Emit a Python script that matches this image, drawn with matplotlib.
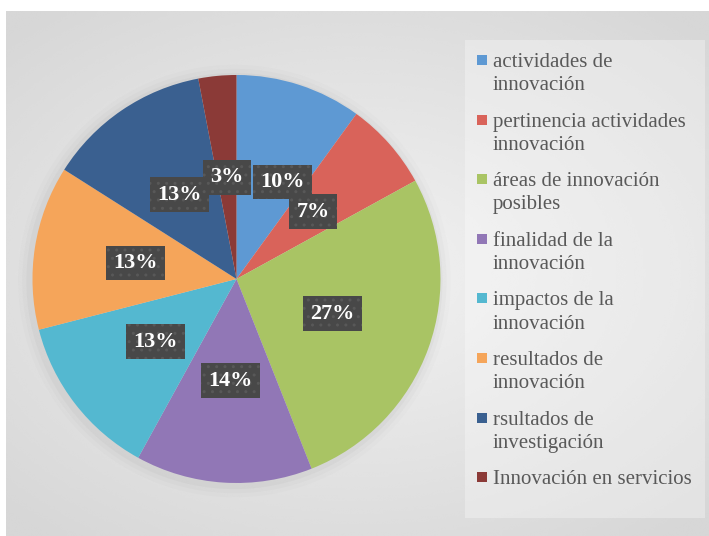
import matplotlib.pyplot as plt
from matplotlib.patches import Rectangle
import numpy as np

# data
labels = ["actividades de\ninnovación",
          "pertinencia actividades\ninnovación",
          "áreas de innovación\nposibles",
          "finalidad de la\ninnovación",
          "impactos de la\ninnovación",
          "resultados de\ninnovación",
          "rsultados de\ninvestigación",
          "Innovación en servicios"]
values = [10, 7, 27, 14, 13, 13, 13, 3]
colors = ["#5e99d3", "#d9635a", "#a9c464", "#9177b6",
          "#54b8d0", "#f5a55a", "#3a6090", "#8b3a37"]

W, H = 709, 536
fig = plt.figure(figsize=(W / 100, H / 100), dpi=100)
fig.patch.set_facecolor("white")

# gray radial gradient background panel
bg = fig.add_axes([6 / W, 0, 1 - 6 / W, 1 - 11 / H], zorder=-10)
yy, xx = np.mgrid[-1:1:200j, -1:1:260j]
rr = np.sqrt((xx * 0.9) ** 2 + (yy * 1.0) ** 2)
bg.imshow(0.95 - 0.11 * np.clip(rr, 0, 1.3) / 1.3, cmap="gray", vmin=0, vmax=1,
          aspect="auto", extent=[0, 1, 0, 1], interpolation="bicubic")
bg.axis("off")

ax = fig.add_axes([0.0458, 0.0989, 0.5755, 0.7612])

# soft shadow round the pie
for r, a in [(1.06, 0.025), (1.04, 0.035), (1.02, 0.05)]:
    ax.add_patch(plt.Circle((-0.01, -0.01), r, color="#707070", alpha=a, lw=0,
                            zorder=0, clip_on=False))

wedges, texts, autotexts = ax.pie(values, colors=colors, startangle=90, counterclock=False,
                                  radius=1, autopct="%d%%", pctdistance=0.5,
                                  wedgeprops=dict(linewidth=0),
                                  textprops=dict(color="white", fontsize=16, fontweight="bold",
                                                 family="Liberation Serif"))
for t in autotexts:
    t.set_bbox(dict(boxstyle="square,pad=0.33", facecolor="#484848", edgecolor="#585858",
                    hatch="..", linewidth=0))
# first label is pushed aside a little so it clears the 3% box
x0, y0 = autotexts[0].get_position()
autotexts[0].set_position((x0 + 0.07, y0))
ax.set_aspect("equal")
ax.axis("off")
ax.set_xlim(-1, 1)
ax.set_ylim(-1, 1)

# legend panel, squares next to the first line of each entry
fig.patches.append(Rectangle((465 / W, 1 - 518 / H), 240 / W, 478 / H, transform=fig.transFigure,
                             facecolor="white", alpha=0.3, linewidth=0, zorder=-5))
for i, (lab, col) in enumerate(zip(labels, colors)):
    yc = 60 + i * 59.6
    fig.patches.append(Rectangle((477 / W, 1 - (yc + 5) / H), 10 / W, 10 / H,
                                 transform=fig.transFigure, facecolor=col, linewidth=0))
    fig.text(493 / W, 1 - (yc - 7) / H, lab, va="top", ha="left", color="#595959",
             family="Liberation Serif", fontsize=15, linespacing=1.3)

fig.savefig("out.png", dpi=100)
